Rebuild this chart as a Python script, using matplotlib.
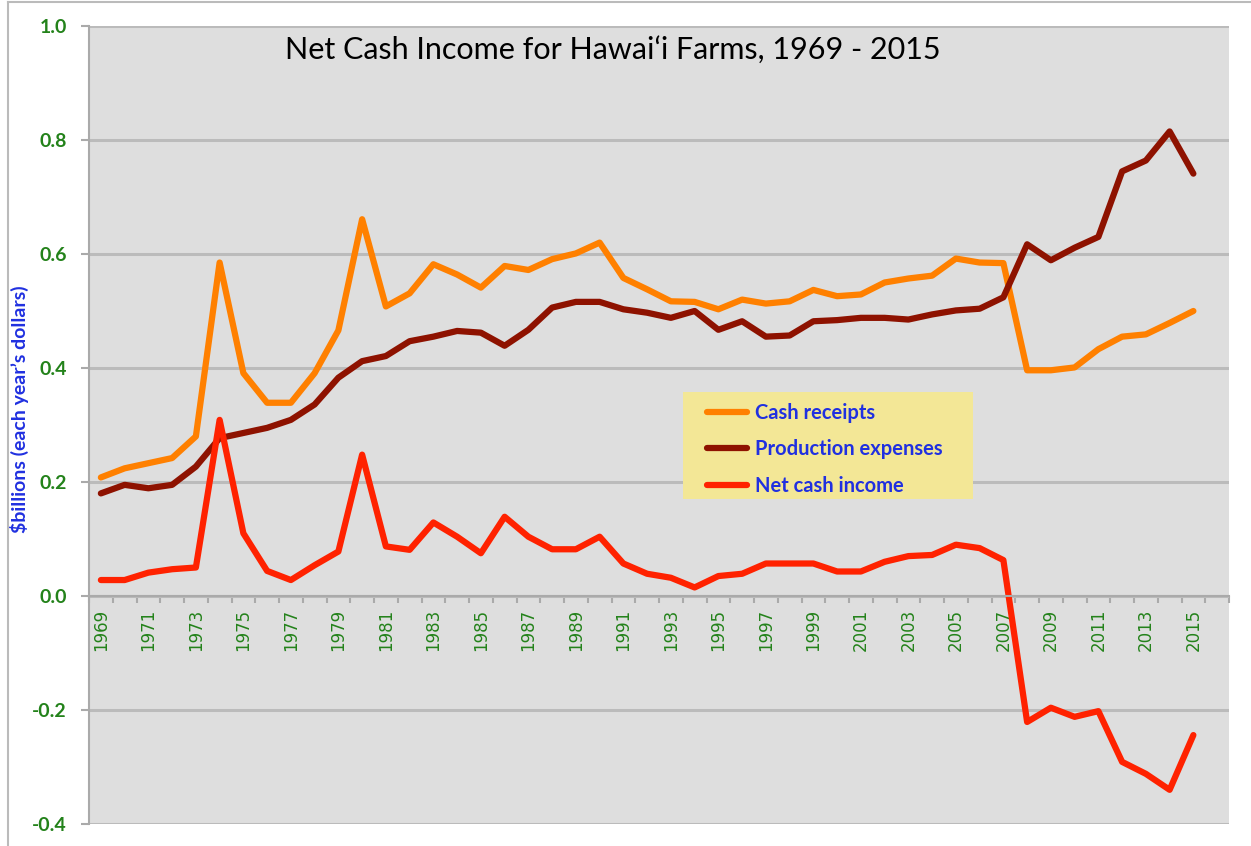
import numpy as np
import matplotlib.pyplot as plt
from matplotlib.lines import Line2D
from matplotlib.patches import Rectangle

# Datos (miles de millones de dólares corrientes)
years = list(range(1969, 2016))

cash_receipts = [0.208, 0.224, 0.233, 0.242, 0.280, 0.585, 0.391, 0.339, 0.339, 0.391,
                 0.466, 0.661, 0.508, 0.531, 0.582, 0.564, 0.541, 0.579, 0.572, 0.591,
                 0.601, 0.620, 0.558, 0.538, 0.517, 0.516, 0.503, 0.520, 0.513, 0.517,
                 0.537, 0.526, 0.529, 0.550, 0.557, 0.562, 0.592, 0.585, 0.584, 0.396,
                 0.396, 0.401, 0.433, 0.455, 0.459, 0.479, 0.500]

production_expenses = [0.180, 0.195, 0.189, 0.195, 0.227, 0.277, 0.286, 0.295, 0.309, 0.336,
                       0.383, 0.412, 0.421, 0.447, 0.455, 0.465, 0.462, 0.439, 0.467, 0.506,
                       0.516, 0.516, 0.503, 0.497, 0.488, 0.500, 0.467, 0.482, 0.455, 0.457,
                       0.482, 0.484, 0.488, 0.488, 0.485, 0.494, 0.501, 0.504, 0.524, 0.617,
                       0.589, 0.611, 0.630, 0.745, 0.764, 0.815, 0.741]

net_cash_income = [0.028, 0.028, 0.041, 0.047, 0.050, 0.309, 0.110, 0.044, 0.028, 0.054,
                   0.078, 0.248, 0.087, 0.081, 0.129, 0.104, 0.075, 0.139, 0.104, 0.082,
                   0.082, 0.104, 0.057, 0.039, 0.032, 0.015, 0.035, 0.039, 0.057, 0.057,
                   0.057, 0.043, 0.043, 0.060, 0.070, 0.072, 0.090, 0.084, 0.063, -0.221,
                   -0.196, -0.212, -0.202, -0.291, -0.312, -0.340, -0.244]

y_ticks = [-0.4, -0.2, 0.0, 0.2, 0.4, 0.6, 0.8, 1.0]

green = '#23821A'
blue = '#2030E0'

fig = plt.figure(figsize=(12.51, 8.46), dpi=100)
ax = fig.add_axes([89 / 1251, 1 - 824 / 846, 1140 / 1251, 798 / 846])
ax.set_facecolor('#DEDEDE')

x = np.arange(len(years))
ax.plot(x, cash_receipts, color='#FF8000', lw=4.5, label='Cash receipts', solid_capstyle='round')
ax.plot(x, production_expenses, color='#8E1200', lw=4.5, label='Production expenses', solid_capstyle='round')
ax.plot(x, net_cash_income, color='#FF2200', lw=4.5, label='Net cash income', solid_capstyle='round')

ax.set_xlim(-0.5, len(years) + 0.5)
ax.set_ylim(-0.4, 1.0)

# Eje Y
ax.set_yticks(y_ticks)
ax.set_yticklabels([f'{v:.1f}' for v in y_ticks], fontfamily='Lato', fontweight='bold',
                   fontsize=14, color=green)
ax.tick_params(axis='y', length=6, width=1.5, color='#AAAAAA', pad=10)
ax.yaxis.grid(True, color='#BBBBBB', lw=2.2)
ax.set_axisbelow(True)

# Eje X cruzando en y = 0
ax.spines['bottom'].set_position(('data', 0))
ax.spines['bottom'].set_color('#AAAAAA')
ax.spines['bottom'].set_linewidth(1.5)
ax.spines['left'].set_color('#AAAAAA')
ax.spines['left'].set_linewidth(1.5)
ax.spines['top'].set_visible(False)
ax.spines['right'].set_visible(False)

ax.set_xticks(x[::2])
ax.set_xticklabels([str(y) for y in years[::2]], rotation=90, fontsize=12,
                   color=green, fontfamily='DejaVu Sans')
ax.set_xticks(np.arange(-0.5, len(years) + 1, 1), minor=True)
ax.tick_params(axis='x', which='major', length=0, pad=9)
ax.tick_params(axis='x', which='minor', length=5, width=1.5, color='#AAAAAA')

ax.set_ylabel("$billions (each year\u2019s dollars)", fontfamily='Lato', fontweight='bold',
              fontsize=14, color=blue)
ax.yaxis.set_label_coords(-0.053, 0.52)

fig.text(613 / 1251, 1 - 50 / 846, 'Net Cash Income for Hawai\u2018i Farms, 1969 - 2015',
         ha='center', va='center', fontfamily='Lato', fontsize=22, color='black')

# Leyenda sobre un recuadro amarillo
ax.add_patch(Rectangle((0.521, 0.407), 0.254, 0.134, transform=ax.transAxes,
                       facecolor='#F3E796', edgecolor='none', zorder=4))
leg = ax.legend(loc='upper left', bbox_to_anchor=(0.542, 0.528), frameon=False,
                prop={'family': 'Lato', 'weight': 'bold', 'size': 14.5},
                handlelength=2.0, handletextpad=0.4, labelspacing=0.82,
                borderpad=0, borderaxespad=0)
leg.set_zorder(5)
for t in leg.get_texts():
    t.set_color(blue)

# Borde del área del gráfico
fig.add_artist(Line2D([8 / 1251, 8 / 1251], [0, 1 - 2 / 846], color='#BBBBBB', lw=1.5))
fig.add_artist(Line2D([8 / 1251, 1], [1 - 2 / 846, 1 - 2 / 846], color='#BBBBBB', lw=1.5))

plt.savefig('out.png', dpi=100)
